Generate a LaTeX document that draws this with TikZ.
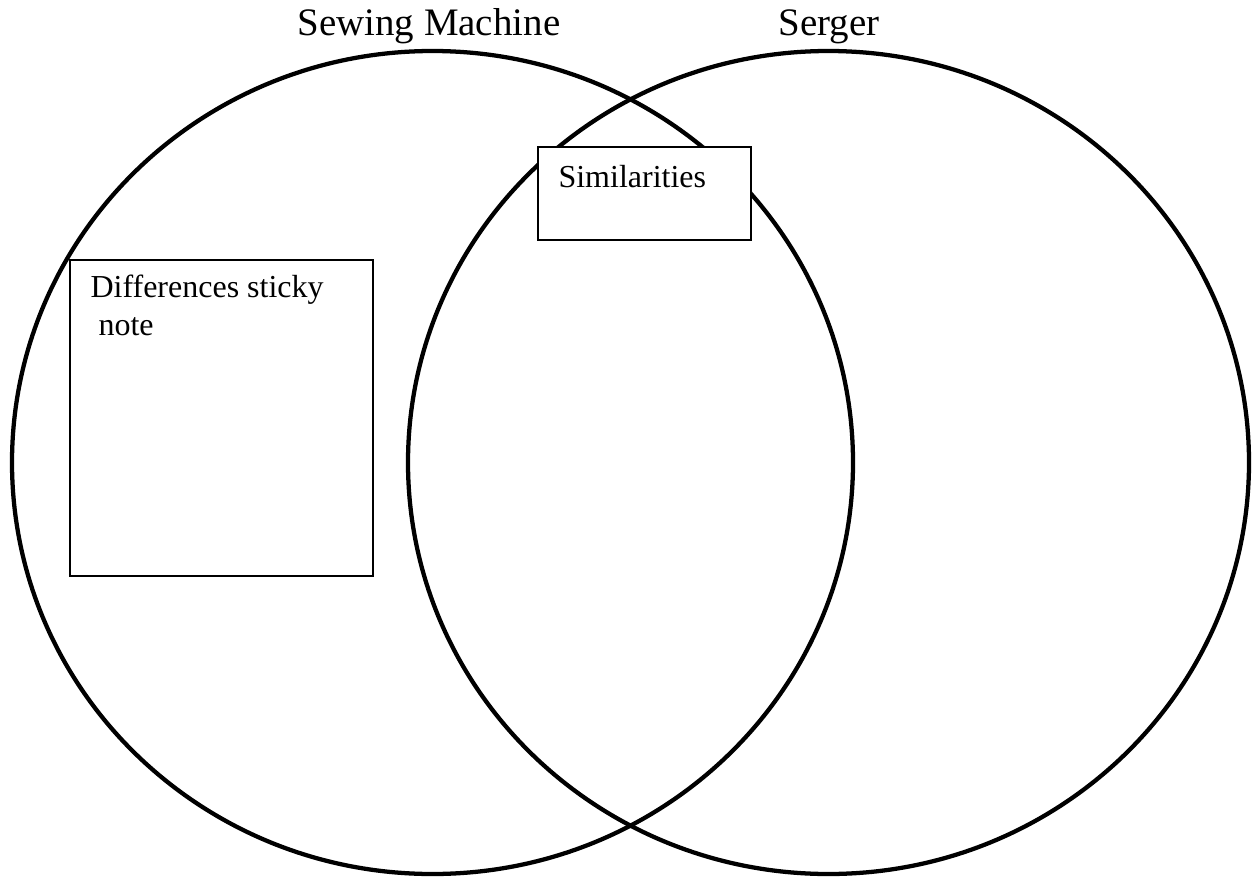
\documentclass[tikz,border=0pt]{standalone}
\usepackage{fontspec}
\setmainfont{Liberation Serif}
\usetikzlibrary{positioning}

\begin{document}
\begin{tikzpicture}[x=0.375pt,y=-0.375pt]

    \tikzstyle{ring}=[line width=1.6pt, draw=black]
    \tikzstyle{noteBox}=[draw=black, fill=white, line width=0.75pt, rectangle, inner sep=0pt, anchor=north west]
    \tikzstyle{title}=[font=\fontsize{14.6}{17}\selectfont, inner sep=0pt, anchor=base west]
    \tikzstyle{noteText}=[font=\fontsize{12}{14.25}\selectfont, inner sep=0pt, anchor=base west, align=left]

    \useasboundingbox (0,0) rectangle (1253,878);

    % Spacing
    \def \rx {420.5}
    \def \ry {411.5}

    % Circles
    \draw[ring] (432.5,462.5) ellipse [x radius=\rx, y radius=\ry];
    \draw[ring] (828.5,462.5) ellipse [x radius=\rx, y radius=\ry];

    % Titles
    \node at (297,35) [title] (SM) {Sewing Machine};
    \node at (778,35) [title] (SG) {Serger};

    % Sticky notes
    \node at (537,146) [noteBox, minimum width=213*0.375pt, minimum height=93*0.375pt] (SIMbox) {};
    \node at (69,259)  [noteBox, minimum width=303*0.375pt, minimum height=316*0.375pt] (DIFbox) {};

    \node at (558,187) [noteText] (SIM) {Similarities};
    % base sits on the last line
    \node at (90,335)  [noteText] (DIF) {Differences sticky\\\ note};

\end{tikzpicture}
\end{document}
